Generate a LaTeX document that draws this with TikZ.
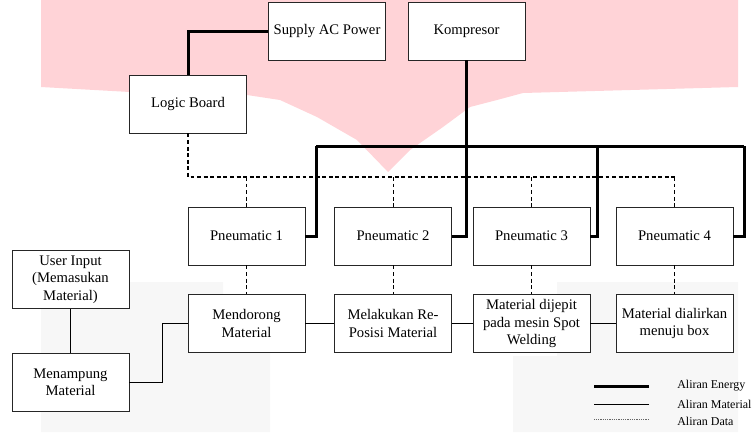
\documentclass[tikz,border=0pt]{standalone}
\usepackage{fontspec}
\setmainfont{Liberation Serif}
\newfontfamily\diagfont{Liberation Serif}
\usetikzlibrary{calc}

\definecolor{wmpink}{RGB}{255,211,215}
\definecolor{wmgray}{RGB}{247,247,247}

\tikzset{
  box/.style={draw=black!85, fill=white, line width=0.6pt,
              minimum width=117*0.668pt, minimum height=58*0.668pt,
              align=center, inner sep=1pt, font=\diagfont\fontsize{9.8}{11.6}\selectfont},
  energy/.style={line width=2pt},
  material/.style={line width=0.6pt},
  data/.style={line width=0.5pt, dash pattern=on 2.6pt off 1.8pt},
  databus/.style={data, line width=0.8pt},
  legend/.style={anchor=west, inner sep=0pt, font=\diagfont\fontsize{8}{9}\selectfont}
}

\begin{document}
\begin{tikzpicture}[x=0.668pt, y=-0.668pt]
\useasboundingbox (0,0) rectangle (753,432);

% watermark behind the diagram
\fill[wmpink] (41,0) -- (738,0) -- (738,87) -- (523,93) -- (497,100) -- (470,107)
  -- (443,127) -- (410,150) -- (388,172) -- (357,140) -- (317,117) -- (280,100)
  -- (247,95) -- (130,92) -- (41,87) -- cycle;
\fill[wmgray] (41,282) -- (223,282) -- (223,350) -- (270,350) -- (270,432) -- (41,432) -- cycle;
\fill[wmgray] (557,282) -- (738,282) -- (738,432) -- (513,432) -- (513,356) -- (557,356) -- cycle;

\node[box] (supply) at (327,31) {Supply AC Power};
\node[box] (komp) at (466.5,31) {Kompresor};
\node[box] (logic) at (188,104) {Logic Board};

% pneumatic row and process row
\foreach \i/\x/\mtext in {1/246.5/{Mendorong\\Material},
                          2/393/{Melakukan Re-\\Posisi Material},
                          3/531.5/{Material dijepit\\pada mesin Spot\\Welding},
                          4/674.5/{Material dialirkan\\menuju box}}
{
  \node[box] (p\i) at (\x,236) {Pneumatic \i};
  \node[box] (m\i) at (\x,323.5) {\mtext};
}

\node[box] (user) at (70.5,279.5) {User Input\\(Memasukan\\Material)};
\node[box] (tampung) at (70.5,382) {Menampung\\Material};

% energy
\draw[energy] (supply.west) -| (logic.north);
\coordinate (e1) at (316,146);
\coordinate (e3) at (597,146);
\coordinate (e4) at (744,146);
\draw[energy] (e1) -- (e4);
\draw[energy] (komp.south) |- (p2.east);
\foreach \i in {1,3,4}
  \draw[energy] (e\i) |- (p\i.east);

% data
\coordinate (d4) at (674.5,177);
\draw[databus] (logic.south) |- (d4);
\foreach \i in {1,...,4}
{
  \draw[data] (p\i.north |- d4) -- (p\i.north);
  \draw[data] (p\i.south) -- (m\i.north);
}

% material
\draw[material] (user.south) -- (tampung.north);
\draw[material] (tampung.east) -- ++(33,0) |- (m1.west);
\foreach \i/\j in {1/2,2/3,3/4}
  \draw[material] (m\i.east) -- (m\j.west);

% legend
\node[legend] (lenergy) at (677,386) {Aliran Energy};
\node[legend] (lmaterial) at (677,404) {Aliran Material};
\node[legend] (ldata) at (677,421) {Aliran Data};
\draw[energy] ($(lenergy.west)+(-28,0)$) -- ++(-55,0);
\draw[material] ($(lmaterial.west)+(-28,0)$) -- ++(-55,0);
\draw[line width=0.4pt, black!60, dash pattern=on 0.6pt off 0.6pt] ($(ldata.west)+(-28,-2)$) -- ++(-55,0);
\end{tikzpicture}
\end{document}
